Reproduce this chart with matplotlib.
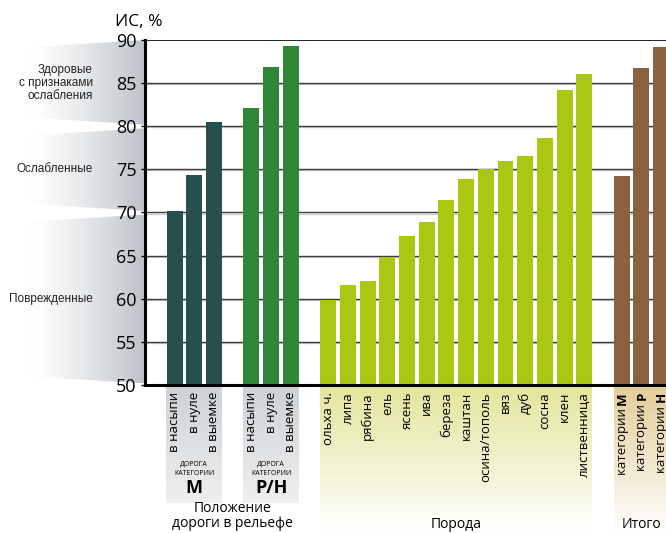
import numpy as np
import matplotlib
matplotlib.use("Agg")
import matplotlib.pyplot as plt
from matplotlib.patches import Polygon

plt.rcParams['font.family'] = ['Open Sans', 'DejaVu Sans']

# data
road_labels = ["в насыпи", "в нуле", "в выемке"]
road_m = [70.2, 74.3, 80.45]
road_rn = [82.1, 86.9, 89.25]
species = ["ольха ч.", "липа", "рябина", "ель", "ясень", "ива", "береза",
           "каштан", "осина/тополь", "вяз", "дуб", "сосна", "клен", "лиственница"]
species_vals = [59.9, 61.65, 62.1, 64.8, 67.3, 68.95, 71.5,
                73.9, 75.1, 76.0, 76.6, 78.6, 84.2, 86.0]
total_cats = ["М", "Р", "Н"]
total_vals = [74.2, 86.7, 89.2]
yticks = [50, 55, 60, 65, 70, 75, 80, 85, 90]
state_labels = ["Здоровые\nс признаками\nослабления", "Ослабленные", "Поврежденные"]
state_pos = [85, 75, 60]

c_m = "#25504e"
c_rn = "#2e8637"
c_sp = "#acc614"
c_tot = "#8a6240"

W, H = 666, 533
AX_L, AX_T, AX_B = 145, 40, 385
SLOT = 19.7
GAP = 1.9
XMAX = (W - AX_L) / SLOT


def px(x):
    return AX_L + x * SLOT


def py(v):
    return AX_T + (90 - v) * (AX_B - AX_T) / 40


# bar positions: consecutive slots, wider gap between groups
groups = [road_m, road_rn, species_vals, total_vals]
pos = []
start = 1.5
for g in groups:
    p = start + np.arange(len(g))
    pos.append(p)
    start = p[-1] + GAP

fig = plt.figure(figsize=(W / 100, H / 100), dpi=100)
bg = fig.add_axes([0, 0, 1, 1], zorder=0)
bg.set_xlim(0, W)
bg.set_ylim(H, 0)
bg.axis("off")


def grad_poly(verts, c0, c1, horizontal=True, power=1.0, lead=0.0):
    t = np.linspace(0, 1, 256)
    t = np.clip((t - lead) / (1 - lead), 0, 1) ** power
    t = t[:, None]
    a = np.array(matplotlib.colors.to_rgba(c0))
    b = np.array(matplotlib.colors.to_rgba(c1))
    img = a + (b - a) * t
    img = img[None, :, :] if horizontal else img[:, None, :]
    xs = [v[0] for v in verts]
    ys = [v[1] for v in verts]
    im = bg.imshow(img, extent=(min(xs), max(xs), max(ys), min(ys)),
                   aspect="auto", interpolation="bilinear", zorder=0)
    poly = Polygon(verts, closed=True, facecolor="none", edgecolor="none")
    bg.add_patch(poly)
    im.set_clip_path(poly)


# state bands on the left
bands = [(90, 80), (80, 70), (70, 50)]
for top, bot in bands:
    yt, yb = py(top) + (0 if top == 90 else 2), py(bot) - 1.5
    grad_poly([(0, yt + 9), (AX_L, yt), (AX_L, yb), (0, yb - 9)],
              "#ffffff", "#bcc2c8", power=1.3, lead=0.2)
for lab, v in zip(state_labels, state_pos):
    bg.text(93, py(v), lab, ha="right", va="center", fontsize=8.5,
            family=["Liberation Sans", "DejaVu Sans"], linespacing=1.1,
            color="#222222")

# panels under the labels
half = 0.41
panels = [(pos[0], 503, "#cdd1d5", "#eeeff0"),
          (pos[1], 503, "#cdd1d5", "#eeeff0"),
          (pos[2], 533, "#e3e59c", "#ffffff"),
          (pos[3], 533, "#e2cc98", "#ffffff")]
for p, yb, c0, c1 in panels:
    x0, x1 = px(p[0] - half), px(p[-1] + half)
    grad_poly([(x0, AX_B), (x1, AX_B), (x1, yb), (x0, yb)], c0, c1,
              horizontal=False)

ax = fig.add_axes([AX_L / W, (H - AX_B) / H, (W - AX_L) / W, (AX_B - AX_T) / H],
                  zorder=1)
ax.patch.set_alpha(0)
ax.set_xlim(0, XMAX)
ax.set_ylim(50, 90)

for v in yticks[1:-1]:
    ax.axhline(v - 0.12, color="#cccccc", lw=0.9, zorder=0.5)
    ax.axhline(v, color="#3c3c3c", lw=1.0, zorder=0.6)
ax.axhline(90, color="black", lw=1.2, zorder=0.6)

for p, vals, c in zip(pos, groups, [c_m, c_rn, c_sp, c_tot]):
    ax.bar(p, np.array(vals) - 50, bottom=50, width=0.81, color=c, zorder=2)

for s in ["top", "right"]:
    ax.spines[s].set_visible(False)
ax.spines["left"].set_linewidth(2.2)
ax.spines["bottom"].set_linewidth(2.2)
ax.spines["bottom"].set_zorder(3)
ax.set_xticks([])
ax.set_yticks(yticks)
ax.tick_params(axis="y", labelsize=13, length=3, width=1, pad=3)
ax.text(-1.5, 91.2, "ИС, %", fontsize=12.5, ha="left", va="bottom")

ylab = 49.2
for p, labs in [(pos[0], road_labels), (pos[1], road_labels), (pos[2], species)]:
    for x, lab in zip(p, labs):
        ax.text(x, ylab, lab, rotation=90, rotation_mode="anchor",
                ha="right", va="center", fontsize=9.5, clip_on=False)

fig.canvas.draw()
rend = fig.canvas.get_renderer()
for x, cat in zip(pos[3], total_cats):
    t = ax.text(x + 0.2, ylab, cat, rotation=90, rotation_mode="anchor",
                ha="right", va="baseline", fontsize=9.5, fontweight="bold",
                clip_on=False)
    h = t.get_window_extent(rend).height * 72 / 100
    ax.annotate("категории ", xy=(x + 0.2, ylab), xytext=(0, -h),
                textcoords="offset points", rotation=90, rotation_mode="anchor",
                ha="right", va="baseline", fontsize=9.5, annotation_clip=False)

# sub-captions and group titles
for p, cat in [(pos[0], "М"), (pos[1], "Р/Н")]:
    xc = px(p.mean())
    bg.text(xc, 469, "ДОРОГА\nКАТЕГОРИИ", ha="center", va="center",
            fontsize=5, linespacing=1.5, zorder=3)
    bg.text(xc, 488, cat, ha="center", va="center", fontsize=13,
            fontweight="bold", zorder=3)

bg.text(px((pos[0][0] + pos[1][-1]) / 2), 516, "Положение\nдороги в рельефе",
        ha="center", va="center", fontsize=10, linespacing=1.0, zorder=3)
bg.text(px(pos[2].mean()), 524, "Порода", ha="center", va="center",
        fontsize=10, zorder=3)
bg.text(px(pos[3][1]), 524, "Итого", ha="center", va="center",
        fontsize=10, zorder=3)

fig.savefig("out.png", dpi=100)
